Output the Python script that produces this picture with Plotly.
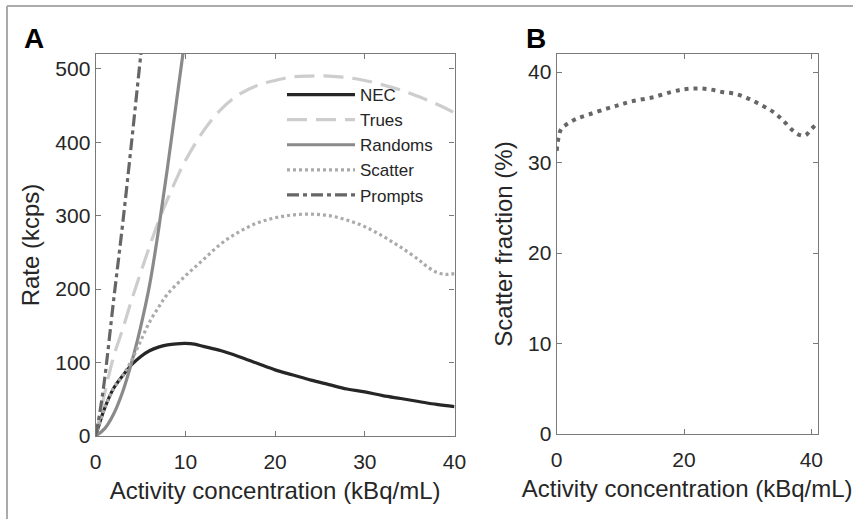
import plotly.graph_objects as go
from plotly.subplots import make_subplots

# ---------------- Panel A data (kBq/mL -> kcps) ----------------
nec_x = [0, 0.5, 1, 2, 3, 4, 5, 6, 7, 8, 9, 10, 11, 12, 14, 16, 18, 20, 22, 24, 26, 28, 30, 32, 34, 36, 38, 40]
nec_y = [0, 20, 38, 65, 82, 97, 108, 116, 121, 124, 125.5, 126, 125, 122, 116, 108, 99, 90, 83, 76, 70, 64, 60, 55, 51, 47, 43, 40]

trues_x = [0, 1, 2, 3, 4, 5, 6, 7, 8, 9, 10, 12, 14, 16, 18, 20, 22, 24, 26, 28, 30, 32, 34, 36, 38, 40]
trues_y = [0, 58, 108, 145, 185, 222, 258, 292, 322, 350, 375, 415, 445, 465, 477, 484, 489, 490, 490, 488, 484, 478, 471, 462, 452, 440]

randoms_x = [0, 1, 2, 3, 4, 5, 6, 7, 8, 9, 10]
randoms_y = [0, 10, 30, 60, 100, 148, 205, 280, 365, 455, 545]

scatter_x = [0, 1, 2, 3, 4, 5, 6, 7, 8, 10, 12, 14, 16, 18, 20, 22, 24, 26, 28, 30, 32, 34, 36, 37, 38, 39, 40]
scatter_y = [0, 38, 65, 82, 103, 129, 155, 175, 193, 218, 240, 262, 278, 290, 297, 301, 302, 300, 294, 285, 272, 257, 240, 230, 223, 220, 221]

prompts_x = [0, 0.5, 1, 2, 3, 4, 5, 5.2]
prompts_y = [0, 35, 78, 185, 288, 400, 516, 539]

# ---------------- Panel B data (scatter fraction, %) ----------------
sf_x = [0, 0.3, 0.7, 1.5, 3, 5, 8, 10, 12, 15, 18, 20, 22, 24, 26, 28, 30, 32, 34, 35.5, 37, 38, 39, 40, 41]
sf_y = [31.3, 32.8, 33.7, 34.2, 34.8, 35.3, 36.0, 36.4, 36.8, 37.2, 37.8, 38.1, 38.2, 38.1, 37.8, 37.6, 37.1, 36.4, 35.6, 34.7, 33.6, 33.1, 33.0, 33.7, 34.4]

a_xticks = [0, 10, 20, 30, 40]
a_yticks = [0, 100, 200, 300, 400, 500]
b_xticks = [0, 20, 40]
b_yticks = [0, 10, 20, 30, 40]

W, H = 853, 519
FONT = "Liberation Sans, Arial, sans-serif"
TXT = "#262626"
AX = "#7a7a7a"

fig = make_subplots(rows=1, cols=2)

fig.add_trace(go.Scatter(x=nec_x, y=nec_y, name="NEC", mode="lines",
                         line=dict(color="#262626", width=3.2, shape="spline")), 1, 1)
fig.add_trace(go.Scatter(x=trues_x, y=trues_y, name="Trues", mode="lines",
                         line=dict(color="#cdcdcd", width=3.2, dash="20px,9px", shape="spline")), 1, 1)
fig.add_trace(go.Scatter(x=randoms_x, y=randoms_y, name="Randoms", mode="lines",
                         line=dict(color="#8a8a8a", width=3.2, shape="spline")), 1, 1)
fig.add_trace(go.Scatter(x=scatter_x, y=scatter_y, name="Scatter", mode="lines",
                         line=dict(color="#ababab", width=3.2, dash="3px,3px", shape="spline")), 1, 1)
fig.add_trace(go.Scatter(x=prompts_x, y=prompts_y, name="Prompts", mode="lines",
                         line=dict(color="#666666", width=3.2, dash="12px,4px,4px,4px", shape="spline")), 1, 1)

fig.add_trace(go.Scatter(x=sf_x, y=sf_y, name="Scatter fraction", mode="lines", showlegend=False,
                         line=dict(color="#666666", width=4, dash="4px,5px", shape="spline")), 1, 2)

def px2fx(p):
    return p / W

def py2fy(p):
    return 1 - p / H

axcommon = dict(showline=True, linecolor=AX, linewidth=1.3, mirror="ticks",
                ticks="inside", ticklen=5, tickcolor=AX, tickwidth=1.2,
                showgrid=False, zeroline=False, automargin=False,
                tickfont=dict(family=FONT, size=21, color=TXT),
                title_font=dict(family=FONT, size=24, color=TXT))

fig.update_xaxes(axcommon)
fig.update_yaxes(axcommon)
fig.update_xaxes(ticklabelstandoff=7)

fig.update_xaxes(row=1, col=1, domain=[px2fx(95.7), px2fx(454.5)], range=[0, 40],
                 tickvals=a_xticks, title_text="Activity concentration (kBq/mL)", title_standoff=9)
fig.update_yaxes(row=1, col=1, domain=[py2fy(436), py2fy(54)], range=[0, 520],
                 tickvals=a_yticks, title_text="Rate (kcps)", title_standoff=8)
fig.update_xaxes(row=1, col=2, domain=[px2fx(556.7), px2fx(817.7)], range=[0, 41],
                 tickvals=b_xticks, title_text="Activity concentration (kBq/mL)", title_standoff=9)
fig.update_yaxes(row=1, col=2, domain=[py2fy(434), py2fy(54)], range=[0, 42],
                 tickvals=b_yticks, title_text="Scatter fraction (%)", title_standoff=8)

fig.update_layout(
    width=W, height=H,
    margin=dict(l=0, r=0, t=0, b=0, autoexpand=False),
    paper_bgcolor="white", plot_bgcolor="white",
    font=dict(family=FONT, color=TXT),
    legend=dict(x=px2fx(282), y=py2fy(77), xanchor="left", yanchor="top",
                bgcolor="rgba(0,0,0,0)", borderwidth=0, itemwidth=68,
                font=dict(family=FONT, size=17, color=TXT), tracegroupgap=0),
    annotations=[
        dict(text="<b>A</b>", x=px2fx(34), y=py2fy(38), xref="paper", yref="paper",
             xanchor="center", yanchor="middle",
             showarrow=False, font=dict(family=FONT, size=28, color="#000000")),
        dict(text="<b>B</b>", x=px2fx(536), y=py2fy(38), xref="paper", yref="paper",
             xanchor="center", yanchor="middle",
             showarrow=False, font=dict(family=FONT, size=28, color="#000000")),
    ],
    shapes=[
        dict(type="line", xref="paper", yref="paper", x0=px2fx(7), x1=1, y0=py2fy(6), y1=py2fy(6),
             line=dict(color="#ababab", width=2)),
        dict(type="line", xref="paper", yref="paper", x0=px2fx(7), x1=px2fx(7), y0=py2fy(6), y1=0,
             line=dict(color="#ababab", width=2)),
    ],
)

fig.write_html("out.html", config={"displayModeBar": False},
               post_script="document.body.style.margin='0px';")
